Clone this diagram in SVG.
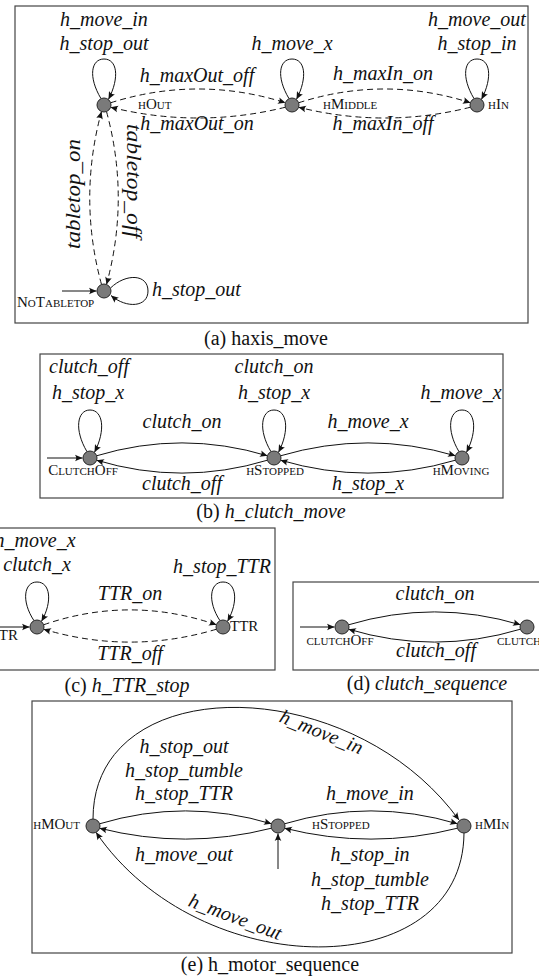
<svg xmlns="http://www.w3.org/2000/svg" width="539" height="978" viewBox="0 0 539 978">
  <defs>
    <marker id="arr" viewBox="-8 -5 10 10" markerWidth="10" markerHeight="10" refX="0" refY="0" orient="auto" markerUnits="userSpaceOnUse">
      <path d="M0,0 L-7.5,-3.3 Q-5,0 -7.5,3.3 Z" fill="#111"/>
    </marker>
    <style>
      .frame { fill: none; stroke: #444; stroke-width: 1.2; }
      .node { fill: #7a7a7a; stroke: #262626; stroke-width: 1; }
      .edge { fill: none; stroke: #111; stroke-width: 1; marker-end: url(#arr); }
      .dash { stroke-dasharray: 6 4; }
      .lbl { font-family: "Liberation Serif", "Times New Roman", serif; font-style: italic; font-size: 20px; fill: #111; text-anchor: middle; }
      .sc { font-family: "Liberation Serif", "Times New Roman", serif; font-variant: small-caps; font-size: 15px; fill: #111; }
      .cap { font-family: "Liberation Serif", "Times New Roman", serif; font-size: 20px; fill: #111; text-anchor: middle; }
      .it { font-style: italic; }
    </style>
  </defs>

  <!-- (a) haxis_move -->
  <g id="panel-a">
    <rect class="frame" x="15" y="6" width="513" height="317"/>
    <g id="a-connectors">
      <path class="edge" d="M101,98.6 C88,77 91,59 104,59 C117,59 120,77 108.5,99.3"/>
      <path class="edge" d="M289,98.6 C276,77 279,59 292,59 C305,59 308,77 296.5,99.3"/>
      <path class="edge" d="M474,98.6 C461,77 464,59 477,59 C490,59 493,77 481.5,99.3"/>
      <path class="edge" d="M110.5,288 C126,273 148,274 148,291 C148,307 127,309 111,295.5"/>
      <path class="edge" d="M62,291 L96.5,291"/>
      <path class="edge dash" d="M110.5,102.8 Q198,75.2 285.5,102.8"/>
      <path class="edge dash" d="M285.5,107.2 Q198,128.8 110.5,107.2"/>
      <path class="edge dash" d="M298.5,102.8 Q384.5,75.2 470.5,102.8"/>
      <path class="edge dash" d="M470.5,107.2 Q384.5,128.8 298.5,107.2"/>
      <path class="edge dash" d="M101.5,284.5 Q78,198 101.5,111.5"/>
      <path class="edge dash" d="M106.5,111.5 Q130,198 106.5,284.5"/>
    </g>
    <g id="a-labels">
      <text class="lbl" x="104" y="26">h_move_in</text>
      <text class="lbl" x="104" y="50">h_stop_out</text>
      <text class="lbl" x="292" y="50">h_move_x</text>
      <text class="lbl" x="477" y="26">h_move_out</text>
      <text class="lbl" x="477" y="50">h_stop_in</text>
      <text class="lbl" x="197" y="82">h_maxOut_off</text>
      <text class="lbl" x="197" y="130">h_maxOut_on</text>
      <text class="lbl" x="383" y="80">h_maxIn_on</text>
      <text class="lbl" x="383" y="130">h_maxIn_off</text>
      <text class="lbl" style="text-anchor:start" x="152" y="296">h_stop_out</text>
      <text class="lbl" transform="translate(80,194) rotate(-90)" textLength="110" lengthAdjust="spacingAndGlyphs">tabletop_on</text>
      <text class="lbl" transform="translate(127,181) rotate(90)" textLength="114" lengthAdjust="spacingAndGlyphs">tabletop_off</text>
    </g>
    <g id="a-hOut"><circle class="node" cx="104" cy="105" r="7"/><text class="sc" x="138" y="109">hOut</text></g>
    <g id="a-hMiddle"><circle class="node" cx="292" cy="105" r="7"/><text class="sc" x="323" y="109">hMiddle</text></g>
    <g id="a-hIn"><circle class="node" cx="477" cy="105" r="7"/><text class="sc" x="488" y="109">hIn</text></g>
    <g id="a-NoTabletop"><circle class="node" cx="104" cy="291" r="7"/><text class="sc" x="17" y="307">NoTabletop</text></g>
    <text class="cap" x="266" y="345">(a) haxis_move</text>
  </g>

  <!-- (b) h_clutch_move -->
  <g id="panel-b">
    <rect class="frame" x="40" y="354" width="463" height="144"/>
    <g id="b-connectors">
      <path class="edge" d="M87,451.7 C74,430 77,410 90,410 C103,410 106,430 94.5,452.3"/>
      <path class="edge" d="M271,451.7 C258,430 261,410 274,410 C287,410 290,430 278.5,452.3"/>
      <path class="edge" d="M459,451.7 C446,430 449,410 462,410 C475,410 478,430 466.5,452.3"/>
      <path class="edge" d="M47,458 L82.5,458"/>
      <path class="edge" d="M96.5,455.8 Q182,430 267.5,455.8"/>
      <path class="edge" d="M267.5,460.2 Q182,486 96.5,460.2"/>
      <path class="edge" d="M280.5,455.8 Q368,430 455.5,455.8"/>
      <path class="edge" d="M455.5,460.2 Q368,486 280.5,460.2"/>
    </g>
    <g id="b-labels">
      <text class="lbl" x="89" y="373">clutch_off</text>
      <text class="lbl" x="88" y="399">h_stop_x</text>
      <text class="lbl" x="274" y="373">clutch_on</text>
      <text class="lbl" x="274" y="399">h_stop_x</text>
      <text class="lbl" x="461" y="399">h_move_x</text>
      <text class="lbl" x="182" y="428">clutch_on</text>
      <text class="lbl" x="182" y="490">clutch_off</text>
      <text class="lbl" x="368" y="428">h_move_x</text>
      <text class="lbl" x="368" y="490">h_stop_x</text>
    </g>
    <g id="b-ClutchOff"><circle class="node" cx="90" cy="458" r="7"/><text class="sc" style="text-anchor:middle" x="83" y="475">ClutchOff</text></g>
    <g id="b-hStopped"><circle class="node" cx="274" cy="458" r="7"/><text class="sc" style="text-anchor:middle" x="275" y="475">hStopped</text></g>
    <g id="b-hMoving"><circle class="node" cx="462" cy="458" r="7"/><text class="sc" style="text-anchor:middle" x="461" y="475">hMoving</text></g>
    <text class="cap" x="271" y="518">(b) <tspan class="it">h_clutch_move</tspan></text>
  </g>

  <!-- (c) h_TTR_stop -->
  <g id="panel-c">
    <rect class="frame" x="-60" y="528" width="335" height="142"/>
    <g id="c-connectors">
      <path class="edge" d="M34,620.7 C21,601 24,582 37,582 C50,582 53,601 41.5,621.3"/>
      <path class="edge" d="M220,620.7 C207,601 210,582 223,582 C236,582 239,601 227.5,621.3"/>
      <path class="edge" d="M-5,627 L29.5,627"/>
      <path class="edge dash" d="M43.5,624.8 Q130,595 216.5,624.8"/>
      <path class="edge dash" d="M216.5,629.2 Q130,655 43.5,629.2"/>
    </g>
    <g id="c-labels">
      <text class="lbl" x="35" y="547">h_move_x</text>
      <text class="lbl" x="37" y="571">clutch_x</text>
      <text class="lbl" x="222" y="573">h_stop_TTR</text>
      <text class="lbl" x="130" y="600">TTR_on</text>
      <text class="lbl" x="130" y="660">TTR_off</text>
    </g>
    <g id="c-NoTTR"><circle class="node" cx="37" cy="627" r="7"/><text class="sc" style="text-anchor:end" x="18" y="640">NoTTR</text></g>
    <g id="c-TTR"><circle class="node" cx="223" cy="627" r="7"/><text class="sc" x="230" y="631">TTR</text></g>
    <text class="cap" x="127" y="692">(c) <tspan class="it">h_TTR_stop</tspan></text>
  </g>

  <!-- (d) clutch_sequence -->
  <g id="panel-d">
    <rect class="frame" x="293" y="582" width="280" height="88"/>
    <g id="d-connectors">
      <path class="edge" d="M300,627 L334.5,627"/>
      <path class="edge" d="M348.5,624.8 Q434.5,599 520.5,624.8"/>
      <path class="edge" d="M520.5,629.2 Q434.5,655 348.5,629.2"/>
    </g>
    <g id="d-labels">
      <text class="lbl" x="435" y="600">clutch_on</text>
      <text class="lbl" x="436" y="657">clutch_off</text>
    </g>
    <g id="d-clutchOff"><circle class="node" cx="342" cy="627" r="7"/><text class="sc" style="text-anchor:middle" x="340" y="645">clutchOff</text></g>
    <g id="d-clutchOn"><circle class="node" cx="527" cy="627" r="7"/><text class="sc" x="497" y="645">clutchOn</text></g>
    <text class="cap" x="427" y="690">(d) <tspan class="it">clutch_sequence</tspan></text>
  </g>

  <!-- (e) h_motor_sequence -->
  <g id="panel-e">
    <rect class="frame" x="32" y="701" width="480" height="252"/>
    <g id="e-connectors">
      <path class="edge" d="M93,819 C93,670 350,670 459,820"/>
      <path class="edge" d="M464,833 C463,985 200,985 96,832.3"/>
      <path class="edge" d="M278,869 L278,833.5"/>
      <path class="edge" d="M99.5,823.8 Q185.5,798 271.5,823.8"/>
      <path class="edge" d="M271.5,828.2 Q185.5,850 99.5,828.2"/>
      <path class="edge" d="M284.5,823.8 Q371,798 457.5,823.8"/>
      <path class="edge" d="M457.5,828.2 Q371,850 284.5,828.2"/>
    </g>
    <g id="e-labels">
      <text class="lbl" x="184" y="753">h_stop_out</text>
      <text class="lbl" x="184" y="777">h_stop_tumble</text>
      <text class="lbl" x="184" y="800">h_stop_TTR</text>
      <text class="lbl" x="370" y="800">h_move_in</text>
      <text class="lbl" x="184" y="861">h_move_out</text>
      <text class="lbl" x="370" y="861">h_stop_in</text>
      <text class="lbl" x="370" y="886">h_stop_tumble</text>
      <text class="lbl" x="370" y="910">h_stop_TTR</text>
      <text class="lbl" transform="translate(319,738) rotate(22)">h_move_in</text>
      <text class="lbl" transform="translate(233,923) rotate(20.6)">h_move_out</text>
    </g>
    <g id="e-hMOut"><circle class="node" cx="93" cy="826" r="7"/><text class="sc" style="text-anchor:end" x="80" y="829">hMOut</text></g>
    <g id="e-hStopped"><circle class="node" cx="278" cy="826" r="7"/><text class="sc" x="312" y="829">hStopped</text></g>
    <g id="e-hMIn"><circle class="node" cx="464" cy="826" r="7"/><text class="sc" x="475" y="829">hMIn</text></g>
    <text class="cap" x="270" y="971">(e) h_motor_sequence</text>
  </g>
</svg>
